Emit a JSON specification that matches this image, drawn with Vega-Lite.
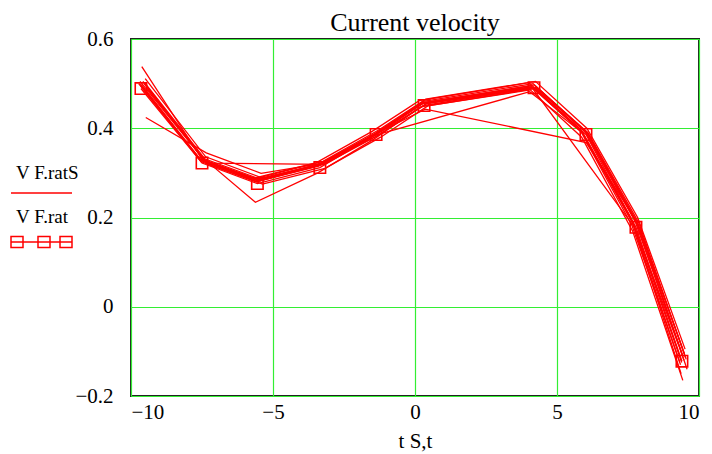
{
  "$schema": "https://vega.github.io/schema/vega-lite/v6.json",
  "width": 568,
  "height": 357,
  "autosize": {"type": "none"},
  "padding": {"left": 131, "top": 39, "right": 13, "bottom": 58},
  "background": "white",
  "title": {"text": "Current velocity", "font": "Liberation Serif", "fontSize": 26, "fontWeight": "normal", "color": "black", "offset": -8, "anchor": "middle"},
  "config": {
    "view": {"stroke": "#222222", "strokeWidth": 2},
    "axis": {"labelFont": "Liberation Serif", "labelFontSize": 21, "labelColor": "black", "titleFont": "Liberation Serif", "titleFontSize": 21, "titleFontWeight": "normal", "titleColor": "black", "domain": false, "ticks": false, "grid": true, "gridColor": "#33ee33", "gridWidth": 1, "gridOpacity": 1},
    "axisX": {"gridColor": "#33ee33", "gridWidth": 1.2},
    "axisY": {"gridColor": "#33ee33", "gridWidth": 1}
  },
  "datasets": {
    "S": [
      {"id": 1, "t": -9.58, "v": 0.505}, {"id": 1, "t": -7.45, "v": 0.33}, {"id": 1, "t": -5.52, "v": 0.285}, {"id": 1, "t": -3.32, "v": 0.32}, {"id": 1, "t": -1.36, "v": 0.39}, {"id": 1, "t": 0.3, "v": 0.46}, {"id": 1, "t": 4.16, "v": 0.5}, {"id": 1, "t": 5.97, "v": 0.395}, {"id": 1, "t": 7.76, "v": 0.19}, {"id": 1, "t": 9.43, "v": -0.11},
      {"id": 2, "t": -9.5, "v": 0.511}, {"id": 2, "t": -7.37, "v": 0.336}, {"id": 2, "t": -5.44, "v": 0.29}, {"id": 2, "t": -3.24, "v": 0.326}, {"id": 2, "t": -1.28, "v": 0.396}, {"id": 2, "t": 0.38, "v": 0.465}, {"id": 2, "t": 4.24, "v": 0.505}, {"id": 2, "t": 6.05, "v": 0.4}, {"id": 2, "t": 7.84, "v": 0.2}, {"id": 2, "t": 9.51, "v": -0.095},
      {"id": 3, "t": -9.66, "v": 0.495}, {"id": 3, "t": -7.53, "v": 0.325}, {"id": 3, "t": -5.6, "v": 0.28}, {"id": 3, "t": -3.4, "v": 0.315}, {"id": 3, "t": -1.44, "v": 0.385}, {"id": 3, "t": 0.22, "v": 0.455}, {"id": 3, "t": 4.08, "v": 0.495}, {"id": 3, "t": 5.89, "v": 0.39}, {"id": 3, "t": 7.68, "v": 0.185}, {"id": 3, "t": 9.35, "v": -0.13},
      {"id": 4, "t": -9.43, "v": 0.489}, {"id": 4, "t": -7.3, "v": 0.32}, {"id": 4, "t": -5.37, "v": 0.275}, {"id": 4, "t": -3.17, "v": 0.31}, {"id": 4, "t": -1.21, "v": 0.38}, {"id": 4, "t": 0.45, "v": 0.45}, {"id": 4, "t": 4.31, "v": 0.49}, {"id": 4, "t": 6.12, "v": 0.385}, {"id": 4, "t": 7.91, "v": 0.175}, {"id": 4, "t": 9.58, "v": -0.14},
      {"id": 5, "t": -9.73, "v": 0.5}, {"id": 5, "t": -7.6, "v": 0.332}, {"id": 5, "t": -5.67, "v": 0.288}, {"id": 5, "t": -3.47, "v": 0.323}, {"id": 5, "t": -1.51, "v": 0.393}, {"id": 5, "t": 0.15, "v": 0.462}, {"id": 5, "t": 4.01, "v": 0.502}, {"id": 5, "t": 5.82, "v": 0.398}, {"id": 5, "t": 7.61, "v": 0.198}, {"id": 5, "t": 9.28, "v": -0.085},
      {"id": 6, "t": -9.54, "v": 0.5}, {"id": 6, "t": -7.41, "v": 0.328}, {"id": 6, "t": -5.48, "v": 0.282}, {"id": 6, "t": -3.28, "v": 0.318}, {"id": 6, "t": -1.32, "v": 0.388}, {"id": 6, "t": 0.34, "v": 0.458}, {"id": 6, "t": 4.2, "v": 0.497}, {"id": 6, "t": 6.01, "v": 0.392}, {"id": 6, "t": 7.8, "v": 0.188}, {"id": 6, "t": 9.47, "v": -0.12},
      {"id": 7, "t": -9.62, "v": 0.538}, {"id": 7, "t": -7.49, "v": 0.33}, {"id": 7, "t": -5.56, "v": 0.28}, {"id": 7, "t": -3.36, "v": 0.32}, {"id": 7, "t": -1.4, "v": 0.388}, {"id": 7, "t": 0.26, "v": 0.455}, {"id": 7, "t": 4.12, "v": 0.492}, {"id": 7, "t": 5.93, "v": 0.388}, {"id": 7, "t": 7.72, "v": 0.182}, {"id": 7, "t": 9.39, "v": -0.125},
      {"id": 8, "t": -9.48, "v": 0.424}, {"id": 8, "t": -7.35, "v": 0.345}, {"id": 8, "t": -5.42, "v": 0.299}, {"id": 8, "t": -3.22, "v": 0.322}, {"id": 8, "t": -1.26, "v": 0.386}, {"id": 8, "t": 0.4, "v": 0.455}, {"id": 8, "t": 4.26, "v": 0.49}, {"id": 8, "t": 6.07, "v": 0.39}, {"id": 8, "t": 7.86, "v": 0.185}, {"id": 8, "t": 9.53, "v": -0.115},
      {"id": 9, "t": -9.68, "v": 0.505}, {"id": 9, "t": -7.55, "v": 0.338}, {"id": 9, "t": -5.62, "v": 0.234}, {"id": 9, "t": -3.42, "v": 0.3}, {"id": 9, "t": -1.46, "v": 0.375}, {"id": 9, "t": 0.2, "v": 0.448}, {"id": 9, "t": 4.06, "v": 0.486}, {"id": 9, "t": 5.87, "v": 0.38}, {"id": 9, "t": 7.66, "v": 0.17}, {"id": 9, "t": 9.43, "v": -0.165},
      {"id": 10, "t": -9.46, "v": 0.495}, {"id": 10, "t": -7.33, "v": 0.322}, {"id": 10, "t": -3.2, "v": 0.319}, {"id": 10, "t": -1.24, "v": 0.386}, {"id": 10, "t": 0.42, "v": 0.456}, {"id": 10, "t": 4.28, "v": 0.492}, {"id": 10, "t": 6.09, "v": 0.39}, {"id": 10, "t": 7.88, "v": 0.188}, {"id": 10, "t": 9.55, "v": -0.118},
      {"id": 11, "t": -9.7, "v": 0.5}, {"id": 11, "t": -7.57, "v": 0.33}, {"id": 11, "t": -5.64, "v": 0.285}, {"id": 11, "t": -3.44, "v": 0.318}, {"id": 11, "t": -1.48, "v": 0.383}, {"id": 11, "t": 4.04, "v": 0.482}, {"id": 11, "t": 5.85, "v": 0.392}, {"id": 11, "t": 7.64, "v": 0.182}, {"id": 11, "t": 9.31, "v": -0.122},
      {"id": 12, "t": -9.52, "v": 0.502}, {"id": 12, "t": -7.39, "v": 0.331}, {"id": 12, "t": -5.46, "v": 0.286}, {"id": 12, "t": -3.26, "v": 0.321}, {"id": 12, "t": -1.3, "v": 0.39}, {"id": 12, "t": 0.36, "v": 0.443}, {"id": 12, "t": 6.03, "v": 0.368}, {"id": 12, "t": 7.82, "v": 0.19}, {"id": 12, "t": 9.49, "v": -0.105},
      {"id": 13, "t": -9.64, "v": 0.498}, {"id": 13, "t": -7.51, "v": 0.327}, {"id": 13, "t": -5.58, "v": 0.283}, {"id": 13, "t": -3.38, "v": 0.317}, {"id": 13, "t": -1.42, "v": 0.387}, {"id": 13, "t": 0.24, "v": 0.457}, {"id": 13, "t": 4.1, "v": 0.493}, {"id": 13, "t": 7.7, "v": 0.18}, {"id": 13, "t": 9.37, "v": -0.15}
    ],
    "R": [
      {"t": -9.65, "v": 0.489}, {"t": -7.5, "v": 0.322}, {"t": -5.55, "v": 0.276}, {"t": -3.35, "v": 0.312}, {"t": -1.37, "v": 0.386}, {"t": 0.32, "v": 0.451}, {"t": 4.19, "v": 0.491}, {"t": 6.02, "v": 0.386}, {"t": 7.78, "v": 0.178}, {"t": 9.4, "v": -0.122}
    ]
  },
  "encoding": {
    "x": {"field": "t", "type": "quantitative", "scale": {"domain": [-10, 10], "nice": false, "zero": false}, "axis": {"values": [-10, -5, 0, 5, 10], "title": "t S,t", "labelPadding": 5, "titlePadding": 8, "gridColor": "#33ee33"}},
    "y": {"field": "v", "type": "quantitative", "scale": {"domain": [-0.2, 0.6], "nice": false, "zero": false}, "axis": {"values": [-0.2, 0, 0.2, 0.4, 0.6], "title": null, "labelPadding": 18, "format": ".1~f", "gridColor": "#33ee33"}}
  },
  "layer": [
    {
      "data": {"name": "S"},
      "transform": [{"calculate": "'V F.ratS'", "as": "series"}],
      "mark": {"type": "line", "strokeWidth": 1.3},
      "encoding": {
        "detail": {"field": "id", "type": "nominal"},
        "color": {"field": "series", "type": "nominal", "scale": {"domain": ["V F.ratS", "V F.rat"], "range": ["#ff0000", "#ff0000"]},
          "legend": {"orient": "none", "legendX": -121, "legendY": 123, "title": null, "padding": 0, "labelFont": "Liberation Serif", "labelFontSize": 19, "labelColor": "black", "symbolSize": 400, "labelOffset": -16, "rowPadding": 10,
            "encode": {"symbols": {"update": {"shape": {"signal": "datum.value === 'V F.rat' ? 'M-1,2.5H5.1M-1,1.95H0.2V3.05H-1ZM1.7,1.95H2.9V3.05H1.7ZM3.9,1.95H5.1V3.05H3.9Z' : 'M-1,2H5.1'"}, "stroke": {"value": "#ff0000"}, "fill": {"value": "transparent"}, "strokeWidth": {"value": 1.5}, "opacity": {"value": 1}}}}}}
      }
    },
    {
      "data": {"name": "R"},
      "transform": [{"calculate": "'V F.rat'", "as": "series"}],
      "mark": {"type": "line", "strokeWidth": 1.3},
      "encoding": {"color": {"field": "series", "type": "nominal"}}
    },
    {
      "data": {"name": "R"},
      "transform": [{"calculate": "'V F.rat'", "as": "series"}],
      "mark": {"type": "point", "shape": "square", "filled": false, "size": 130, "strokeWidth": 1.6, "opacity": 1},
      "encoding": {"color": {"field": "series", "type": "nominal"}}
    }
  ]
}
